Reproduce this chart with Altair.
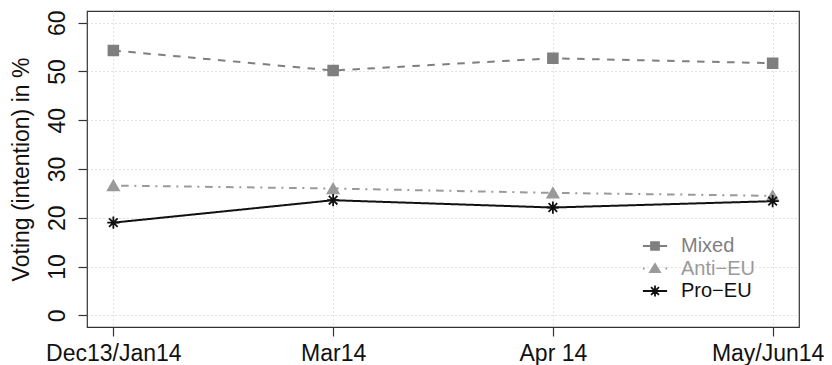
import altair as alt
import pandas as pd

categories = ["Dec13/Jan14", "Mar14", "Apr 14", "May/Jun14"]
series_names = ["Mixed", "Anti\u2212EU", "Pro\u2212EU"]
mixed = [54.3, 50.2, 52.7, 51.7]
anti_eu = [26.6, 26.0, 25.1, 24.5]
pro_eu = [19.0, 23.6, 22.1, 23.4]

rows = []
for name, vals in zip(series_names, [mixed, anti_eu, pro_eu]):
    for i, (c, v) in enumerate(zip(categories, vals)):
        rows.append({"series": name, "idx": i + 1, "cat": c, "value": v})
df = pd.DataFrame(rows)

FONT = "Liberation Sans"
colors = ["#7f7f7f", "#9a9a9a", "#111111"]
dashes = [[7.5, 7.5], [2, 5.7, 7.6, 5.7], [1, 0]]
asterisk = "M-1,0H1M0,-1V1M-0.7,-0.7L0.7,0.7M-0.7,0.7L0.7,-0.7"
main_shapes = ["square", "triangle-up", asterisk]
legend_shapes = [
    "M-1.1,0H1.1M-0.36,-0.36H0.36V0.36H-0.36Z",
    "M-1.1,0H-0.95M0.95,0H1.1M0,-0.42L0.45,0.33H-0.45Z",
    "M-1.1,0H1.1M-0.5,0H0.5M0,-0.5V0.5M-0.36,-0.36L0.36,0.36M-0.36,0.36L0.36,-0.36",
]

label_expr = "{" + ",".join(f"{i + 1}: '{c}'" for i, c in enumerate(categories)) + "}[datum.value]"

x = alt.X(
    "idx:Q",
    scale=alt.Scale(domain=[0.88, 4.12], nice=False, zero=False),
    axis=alt.Axis(
        values=[1, 2, 3, 4], labelExpr=label_expr, title=None,
        labelFlush=False, labelOverlap=False, labelBound=False,
        labelFont=FONT, labelFontSize=23, labelColor="#111111",
        labelBaseline="alphabetic", labelPadding=24,
        labelOffset=alt.ExprRef("datum.value == 4 ? -5 : 0"),
        tickSize=9, tickColor="#333333", tickWidth=1.2, domain=False,
        grid=True, gridColor="#c4c4c4", gridDash=[1, 3], gridWidth=1,
    ),
)
y = alt.Y(
    "value:Q",
    scale=alt.Scale(domain=[-2.4, 62.4], nice=False, zero=False),
    axis=alt.Axis(
        values=[0, 10, 20, 30, 40, 50, 60], title="Voting (intention) in %",
        labelFont=FONT, labelFontSize=23, labelColor="#111111",
        labelAngle=-90, labelAlign="center", labelBaseline="alphabetic",
        labelPadding=13.5, labelOverlap=False, labelFlush=False,
        tickSize=9, tickColor="#333333", tickWidth=1.2, domain=False,
        grid=True, gridColor="#c4c4c4", gridDash=[1, 3], gridWidth=1,
        titleFont=FONT, titleFontSize=23, titleFontWeight="normal",
        titleColor="#111111", titleAngle=-90, titleX=-59, titleY=158,
        titleAlign="center", titleBaseline="alphabetic",
    ),
)

sdom = alt.Scale(domain=series_names, range=colors)

lines = alt.Chart(df).mark_line(strokeWidth=2).encode(
    x=x, y=y,
    color=alt.Color("series:N", scale=sdom, legend=None),
    strokeDash=alt.StrokeDash("series:N", scale=alt.Scale(domain=series_names, range=dashes), legend=None),
)

points = alt.Chart(df).mark_point(filled=True, opacity=1, strokeWidth=1.8).encode(
    x=x, y=y,
    color=alt.Color("series:N", scale=sdom, legend=None),
    stroke=alt.Stroke("series:N", scale=sdom, legend=None),
    shape=alt.Shape("series:N", scale=alt.Scale(domain=series_names, range=main_shapes), legend=None),
    size=alt.Size("series:N", scale=alt.Scale(domain=series_names, range=[95, 150, 170]), legend=None),
)

label_color = "datum.label == 'Mixed' ? '#7f7f7f' : (datum.label == 'Pro\u2212EU' ? '#111111' : '#9a9a9a')"
leg = alt.Legend(
    orient="none", legendX=556, legendY=223, title=None,
    symbolSize=484, symbolStrokeWidth=1.8, symbolOpacity=1,
    labelFont=FONT, labelFontSize=20, labelOffset=14,
    labelColor=alt.ExprRef(label_color), rowPadding=0.5,
)
legend_layer = alt.Chart(df).mark_point(filled=True, opacity=0).encode(
    x=x, y=y,
    color=alt.Color("series:N", scale=sdom, legend=leg),
    stroke=alt.Stroke("series:N", scale=sdom, legend=leg),
    shape=alt.Shape("series:N", scale=alt.Scale(domain=series_names, range=legend_shapes), legend=leg),
)

chart = (
    alt.layer(lines, points, legend_layer)
    .resolve_scale(color="independent", stroke="independent", shape="independent")
    .properties(
        width=712, height=316,
        autosize=alt.AutoSizeParams(type="none"),
        padding={"left": 79, "top": 3, "right": 25, "bottom": 38},
        background="white",
    )
    .configure_view(stroke="#333333", strokeWidth=1.2)
)

chart.save("out.html", embed_options={"renderer": "svg", "actions": False})
